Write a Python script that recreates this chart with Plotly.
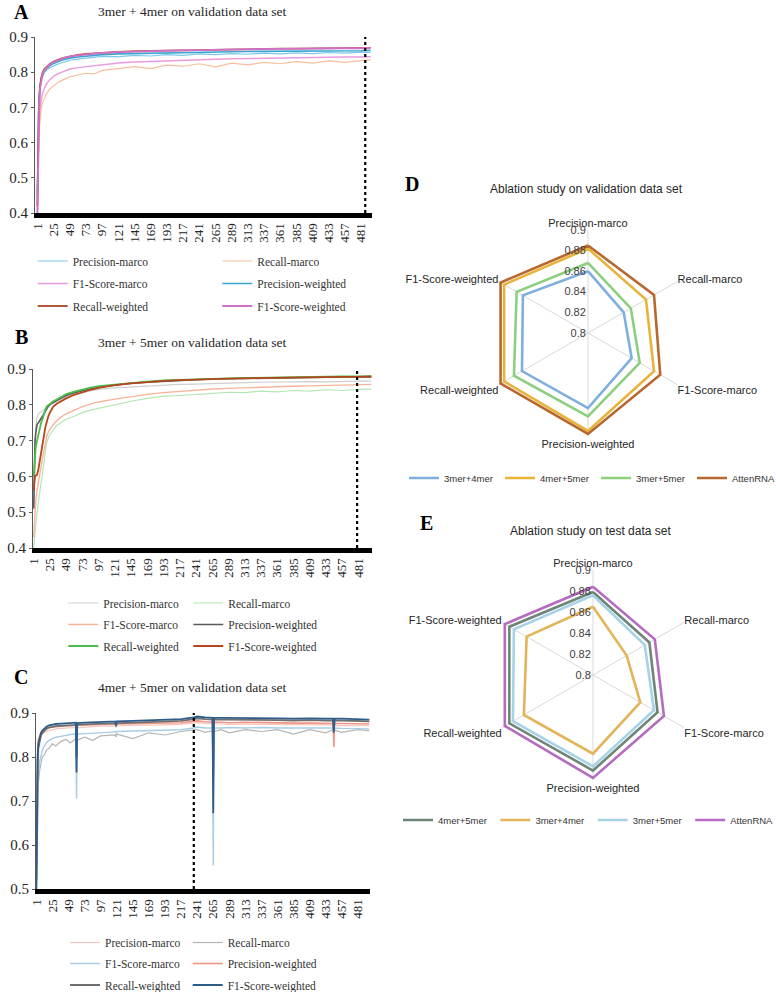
import plotly.graph_objects as go

W, H = 776, 992


def fx(px):
    return px / W


def fy(px):
    return 1 - px / H


SERIF = "Liberation Serif"
SANS = "Liberation Sans"

METRICS = ["Precision-marco", "Recall-marco", "F1-Score-marco",
           "Precision-weighted", "Recall-weighted", "F1-Score-weighted"]
EPOCH_TICKS = [1, 25, 49, 73, 97, 121, 145, 169, 193, 217, 241, 265, 289,
               313, 337, 361, 385, 409, 433, 457, 481]

# ---------------- Panel A: 3mer + 4mer ----------------
EPOCH_A = [1, 2, 3, 4, 5, 7, 9, 12, 15, 19, 25, 31, 37, 43, 49, 61, 73, 85, 97,
           121, 145, 169, 193, 217, 241, 265, 289, 313, 337, 361, 385, 409,
           433, 457, 481, 495]
A_PREC_MARCO = [0.46, 0.63, 0.70, 0.735, 0.76, 0.78, 0.79, 0.80, 0.806, 0.812,
                0.818, 0.823, 0.827, 0.83, 0.834, 0.837, 0.84, 0.842, 0.845,
                0.844, 0.848, 0.846, 0.85, 0.848, 0.852, 0.85, 0.853, 0.851,
                0.854, 0.852, 0.855, 0.853, 0.856, 0.854, 0.857, 0.856]
A_RECALL_MARCO = [0.36, 0.52, 0.60, 0.64, 0.67, 0.70, 0.715, 0.73, 0.74, 0.752,
                  0.762, 0.77, 0.776, 0.782, 0.787, 0.792, 0.797, 0.795, 0.805,
                  0.81, 0.816, 0.81, 0.82, 0.817, 0.824, 0.815, 0.826, 0.821,
                  0.828, 0.824, 0.83, 0.826, 0.832, 0.828, 0.834, 0.836]
A_F1_MARCO = [0.38, 0.55, 0.63, 0.67, 0.70, 0.725, 0.742, 0.757, 0.768, 0.778,
              0.788, 0.795, 0.80, 0.805, 0.809, 0.813, 0.816, 0.819, 0.822,
              0.826, 0.829, 0.831, 0.833, 0.834, 0.836, 0.837, 0.838, 0.839,
              0.84, 0.84, 0.841, 0.842, 0.842, 0.843, 0.843, 0.844]
A_PREC_WEIGHTED = [0.45, 0.62, 0.70, 0.74, 0.765, 0.785, 0.797, 0.806, 0.812,
                   0.818, 0.825, 0.83, 0.834, 0.837, 0.84, 0.843, 0.846, 0.848,
                   0.85, 0.852, 0.853, 0.855, 0.856, 0.857, 0.857, 0.858, 0.858,
                   0.859, 0.859, 0.86, 0.86, 0.86, 0.861, 0.861, 0.861, 0.862]
A_RECALL_WEIGHTED = [0.42, 0.60, 0.68, 0.73, 0.76, 0.785, 0.80, 0.81, 0.816,
                     0.823, 0.83, 0.835, 0.839, 0.842, 0.845, 0.849, 0.852,
                     0.854, 0.856, 0.858, 0.86, 0.861, 0.862, 0.863, 0.864,
                     0.865, 0.865, 0.866, 0.866, 0.867, 0.867, 0.868, 0.868,
                     0.868, 0.869, 0.869]
A_F1_WEIGHTED = [0.40, 0.57, 0.66, 0.72, 0.755, 0.78, 0.796, 0.807, 0.814,
                 0.821, 0.829, 0.834, 0.838, 0.842, 0.845, 0.848, 0.851, 0.853,
                 0.855, 0.857, 0.859, 0.86, 0.861, 0.862, 0.863, 0.864, 0.865,
                 0.865, 0.866, 0.866, 0.867, 0.867, 0.868, 0.868, 0.868, 0.869]
BEST_EPOCH_A = 487

# ---------------- Panel B: 3mer + 5mer ----------------
EPOCH_B = [1, 2, 3, 4, 6, 8, 10, 12, 14, 16, 18, 20, 23, 26, 30, 35, 41, 49, 61,
           73, 85, 97, 121, 145, 169, 193, 217, 241, 265, 289, 313, 337, 361,
           385, 409, 433, 457, 481, 500]
B_PREC_MARCO = [0.52, 0.62, 0.70, 0.74, 0.765, 0.775, 0.778, 0.78, 0.782, 0.785,
                0.788, 0.792, 0.797, 0.80, 0.805, 0.81, 0.815, 0.822, 0.83,
                0.835, 0.84, 0.843, 0.847, 0.85, 0.852, 0.855, 0.857, 0.858,
                0.86, 0.861, 0.862, 0.863, 0.864, 0.863, 0.865, 0.864, 0.866,
                0.866, 0.866]
B_RECALL_MARCO = [0.40, 0.42, 0.45, 0.48, 0.50, 0.53, 0.555, 0.575, 0.60, 0.635,
                  0.665, 0.69, 0.71, 0.72, 0.73, 0.742, 0.75, 0.76, 0.768,
                  0.778, 0.785, 0.79, 0.802, 0.81, 0.818, 0.824, 0.826, 0.83,
                  0.832, 0.835, 0.834, 0.838, 0.836, 0.84, 0.838, 0.842, 0.84,
                  0.843, 0.844]
B_F1_MARCO = [0.43, 0.47, 0.50, 0.53, 0.56, 0.585, 0.61, 0.635, 0.65, 0.67,
              0.69, 0.71, 0.725, 0.735, 0.745, 0.755, 0.765, 0.775, 0.785,
              0.795, 0.802, 0.808, 0.816, 0.823, 0.829, 0.834, 0.838, 0.841,
              0.844, 0.846, 0.848, 0.85, 0.851, 0.852, 0.853, 0.854, 0.855,
              0.856, 0.857]
B_PREC_WEIGHTED = [0.51, 0.62, 0.70, 0.72, 0.745, 0.75, 0.755, 0.76, 0.768,
                   0.775, 0.782, 0.79, 0.797, 0.802, 0.807, 0.812, 0.818, 0.826,
                   0.834, 0.84, 0.845, 0.849, 0.855, 0.86, 0.863, 0.866, 0.868,
                   0.87, 0.872, 0.873, 0.874, 0.875, 0.876, 0.876, 0.877, 0.877,
                   0.878, 0.878, 0.878]
B_RECALL_WEIGHTED = [0.60, 0.63, 0.655, 0.68, 0.70, 0.72, 0.735, 0.75, 0.76,
                     0.775, 0.785, 0.795, 0.80, 0.805, 0.81, 0.815, 0.822, 0.83,
                     0.837, 0.843, 0.848, 0.852, 0.857, 0.862, 0.865, 0.868,
                     0.87, 0.872, 0.873, 0.874, 0.875, 0.876, 0.877, 0.877,
                     0.878, 0.878, 0.879, 0.879, 0.88]
B_F1_WEIGHTED = [0.56, 0.60, 0.60, 0.602, 0.605, 0.62, 0.645, 0.665, 0.69, 0.71,
                 0.735, 0.75, 0.77, 0.782, 0.795, 0.803, 0.81, 0.818, 0.828,
                 0.836, 0.842, 0.847, 0.855, 0.86, 0.864, 0.867, 0.869, 0.871,
                 0.872, 0.873, 0.874, 0.875, 0.876, 0.876, 0.877, 0.877, 0.878,
                 0.878, 0.879]
BEST_EPOCH_B = 479

# ---------------- Panel C: 4mer + 5mer ----------------
EPOCH_C = [1, 2, 3, 4, 6, 8, 10, 13, 16, 20, 25, 30, 37, 45, 52, 60, 61, 62, 73,
           85, 97, 119, 120, 121, 145, 169, 193, 217, 236, 241, 253, 264, 265,
           266, 277, 289, 313, 337, 361, 385, 409, 433, 444, 445, 446, 457,
           481, 498]
C_PREC_MARCO = [0.55, 0.72, 0.80, 0.83, 0.84, 0.848, 0.852, 0.856, 0.858, 0.86,
                0.862, 0.864, 0.865, 0.866, 0.866, 0.867, 0.867, 0.866, 0.868,
                0.869, 0.87, 0.87, 0.868, 0.871, 0.872, 0.872, 0.873, 0.874,
                0.877, 0.878, 0.876, 0.876, 0.875, 0.876, 0.875, 0.874, 0.875,
                0.874, 0.874, 0.873, 0.873, 0.873, 0.872, 0.87, 0.872, 0.872,
                0.872, 0.871]
C_RECALL_MARCO = [0.48, 0.60, 0.70, 0.74, 0.77, 0.785, 0.80, 0.805, 0.815, 0.82,
                  0.83, 0.825, 0.835, 0.84, 0.832, 0.842, 0.842, 0.838, 0.845,
                  0.838, 0.848, 0.85, 0.845, 0.852, 0.842, 0.855, 0.85, 0.858,
                  0.86, 0.862, 0.856, 0.86, 0.86, 0.858, 0.862, 0.855, 0.862,
                  0.858, 0.862, 0.852, 0.862, 0.855, 0.862, 0.86, 0.861, 0.856,
                  0.862, 0.86]
C_F1_MARCO = [0.50, 0.62, 0.72, 0.76, 0.79, 0.805, 0.815, 0.825, 0.832, 0.838,
              0.842, 0.845, 0.847, 0.85, 0.851, 0.852, 0.705, 0.852, 0.853,
              0.855, 0.856, 0.857, 0.855, 0.858, 0.859, 0.86, 0.861, 0.862,
              0.866, 0.868, 0.866, 0.866, 0.553, 0.866, 0.866, 0.867, 0.866,
              0.867, 0.866, 0.866, 0.866, 0.866, 0.866, 0.85, 0.866, 0.865,
              0.865, 0.864]
C_PREC_WEIGHTED = [0.58, 0.75, 0.82, 0.84, 0.85, 0.856, 0.86, 0.863, 0.865,
                   0.867, 0.868, 0.869, 0.87, 0.871, 0.871, 0.872, 0.86, 0.872,
                   0.873, 0.873, 0.874, 0.875, 0.872, 0.875, 0.876, 0.876,
                   0.877, 0.878, 0.881, 0.882, 0.88, 0.879, 0.87, 0.879, 0.879,
                   0.878, 0.879, 0.878, 0.878, 0.877, 0.877, 0.877, 0.876,
                   0.823, 0.876, 0.876, 0.875, 0.875]
C_RECALL_WEIGHTED = [0.52, 0.70, 0.79, 0.82, 0.84, 0.85, 0.855, 0.86, 0.864,
                     0.867, 0.869, 0.87, 0.871, 0.872, 0.872, 0.873, 0.80,
                     0.873, 0.874, 0.875, 0.876, 0.877, 0.87, 0.877, 0.878,
                     0.879, 0.88, 0.882, 0.886, 0.888, 0.886, 0.885, 0.75,
                     0.885, 0.885, 0.885, 0.885, 0.884, 0.884, 0.883, 0.884,
                     0.883, 0.883, 0.86, 0.883, 0.883, 0.882, 0.881]
C_F1_WEIGHTED = [0.50, 0.70, 0.80, 0.83, 0.845, 0.855, 0.86, 0.865, 0.869,
                 0.872, 0.874, 0.875, 0.876, 0.877, 0.877, 0.878, 0.765, 0.877,
                 0.878, 0.879, 0.88, 0.881, 0.872, 0.881, 0.882, 0.883, 0.884,
                 0.886, 0.89, 0.892, 0.89, 0.889, 0.672, 0.889, 0.889, 0.889,
                 0.889, 0.888, 0.888, 0.887, 0.888, 0.887, 0.887, 0.855, 0.887,
                 0.887, 0.886, 0.885]
BEST_EPOCH_C = 236

# ---------------- Panels D / E: radar ----------------
RADIAL_TICKS = [0.8, 0.82, 0.84, 0.86, 0.88, 0.9]
D_MODELS = ["3mer+4mer", "4mer+5mer", "3mer+5mer", "AttenRNA"]
D_3MER4MER = [0.860, 0.840, 0.849, 0.873, 0.874, 0.873]
D_4MER5MER = [0.882, 0.865, 0.874, 0.895, 0.894, 0.894]
D_3MER5MER = [0.868, 0.848, 0.858, 0.881, 0.883, 0.880]
D_ATTENRNA = [0.885, 0.874, 0.881, 0.898, 0.898, 0.898]

E_MODELS = ["4mer+5mer", "3mer+4mer", "3mer+5mer", "AttenRNA"]
E_4MER5MER = [0.879, 0.862, 0.871, 0.891, 0.892, 0.892]
E_3MER4MER = [0.865, 0.837, 0.852, 0.875, 0.876, 0.873]
E_3MER5MER = [0.876, 0.857, 0.867, 0.887, 0.888, 0.887]
E_ATTENRNA = [0.884, 0.868, 0.878, 0.898, 0.897, 0.897]

# ---------------- styling ----------------
A_COLORS = ["#7DC8EA", "#F7BE9E", "#E99BE0", "#3AA6D0", "#B05A3C", "#D070C8"]
B_COLORS = ["#CFCFCF", "#B5E6B5", "#F6B49A", "#595959", "#4DBE4D", "#B5461E"]
C_COLORS = ["#F6C6C0", "#B5B5B5", "#A9CCE6", "#EE9585", "#6F6F6F", "#2E5D8A"]
WIDTHS = [1.2, 1.2, 1.4, 1.6, 1.8, 1.8]
D_COLORS = ["#7FAFDD", "#E8B33A", "#8CCF7E", "#B8682F"]
E_COLORS = ["#6E8577", "#E3B45A", "#A6D3E6", "#B46BC0"]

fig = go.Figure()
layout = dict(width=W, height=H,
              margin=dict(l=0, r=0, t=0, b=0, autoexpand=False),
              paper_bgcolor="white", plot_bgcolor="white", showlegend=True,
              shapes=[], annotations=[])

panels = [
    dict(ax="", x=(35, 372), y=(37, 213), xr=[-2.5, 497], yr=[0.4, 0.9],
         yt=[0.4, 0.5, 0.6, 0.7, 0.8, 0.9], ep=EPOCH_A,
         data=[A_PREC_MARCO, A_RECALL_MARCO, A_F1_MARCO, A_PREC_WEIGHTED,
               A_RECALL_WEIGHTED, A_F1_WEIGHTED], colors=A_COLORS,
         best=BEST_EPOCH_A, lx=32.7, ly=[261, 283.5, 306], ew=139.6,
         label="A", lpos=(21, 12), title="3mer + 4mer on validation data set",
         tpos=(192, 12), legs=["legend", "legend2", "legend3"]),
    dict(ax="2", x=(33, 372), y=(369, 548), xr=[0, 501], yr=[0.4, 0.9],
         yt=[0.4, 0.5, 0.6, 0.7, 0.8, 0.9], ep=EPOCH_B,
         data=[B_PREC_MARCO, B_RECALL_MARCO, B_F1_MARCO, B_PREC_WEIGHTED,
               B_RECALL_WEIGHTED, B_F1_WEIGHTED], colors=B_COLORS,
         best=BEST_EPOCH_B, lx=63.3, ly=[603, 624.5, 646], ew=80,
         label="B", lpos=(21, 337), title="3mer + 5mer on validation data set",
         tpos=(192, 343), legs=["legend4", "legend5", "legend6"]),
    dict(ax="3", x=(36, 370), y=(713, 889), xr=[0.5, 499], yr=[0.5, 0.9],
         yt=[0.5, 0.6, 0.7, 0.8, 0.9], ep=EPOCH_C,
         data=[C_PREC_MARCO, C_RECALL_MARCO, C_F1_MARCO, C_PREC_WEIGHTED,
               C_RECALL_WEIGHTED, C_F1_WEIGHTED], colors=C_COLORS,
         best=BEST_EPOCH_C, lx=65, ly=[942.5, 963.5, 985], ew=77.7,
         label="C", lpos=(21, 677), title="4mer + 5mer on validation data set",
         tpos=(192, 687), legs=["legend7", "legend8", "legend9"]),
]

for p in panels:
    xa = "x" + p["ax"]
    ya = "y" + p["ax"]
    for i, (name, vals) in enumerate(zip(METRICS, p["data"])):
        assert len(vals) == len(p["ep"]), (name, len(vals), len(p["ep"]))
        fig.add_trace(go.Scatter(
            x=p["ep"], y=vals, mode="lines", name=name,
            line=dict(color=p["colors"][i], width=WIDTHS[i]),
            xaxis=xa, yaxis=ya, legend=p["legs"][i // 2],
            legendwidth=p["ew"] if i % 2 == 0 else 130,
            hoverinfo="skip"))
    layout["xaxis" + p["ax"]] = dict(
        domain=[fx(p["x"][0]), fx(p["x"][1])], anchor=ya, range=p["xr"],
        tickmode="array", tickvals=EPOCH_TICKS,
        ticktext=[str(t) for t in EPOCH_TICKS], tickangle=-90,
        tickfont=dict(family=SERIF, size=13, color="#262626"),
        showline=True, linecolor="black", linewidth=5, ticks="",
        showgrid=False, zeroline=False, fixedrange=True)
    layout["yaxis" + p["ax"]] = dict(
        domain=[fy(p["y"][1]), fy(p["y"][0])], anchor=xa, range=p["yr"],
        tickmode="array", tickvals=p["yt"],
        ticktext=["%.1f" % v for v in p["yt"]],
        tickfont=dict(family=SERIF, size=15, color="#262626"),
        showline=True, linecolor="#595959", linewidth=1.2, ticks="outside",
        ticklen=3, tickcolor="#595959", showgrid=False, zeroline=False,
        fixedrange=True)
    layout["shapes"].append(dict(
        type="line", xref=xa, yref=ya, x0=p["best"], x1=p["best"],
        y0=p["yr"][0], y1=p["yr"][1],
        line=dict(color="black", width=2.2, dash="dot")))
    for leg, ly in zip(p["legs"], p["ly"]):
        layout[leg] = dict(
            x=fx(p["lx"]), y=fy(ly), xanchor="left", yanchor="middle",
            orientation="h", bgcolor="rgba(0,0,0,0)", borderwidth=0,
            tracegroupgap=0,
            font=dict(family=SERIF, size=11.5, color="#333333"))
    layout["annotations"].append(dict(
        text="<b>%s</b>" % p["label"], x=fx(p["lpos"][0]), y=fy(p["lpos"][1]),
        xref="paper", yref="paper", showarrow=False, xanchor="center",
        yanchor="middle", font=dict(family=SERIF, size=20, color="black")))
    layout["annotations"].append(dict(
        text=p["title"], x=fx(p["tpos"][0]), y=fy(p["tpos"][1]),
        xref="paper", yref="paper", showarrow=False, xanchor="center",
        yanchor="middle", font=dict(family=SERIF, size=13.5, color="#262626")))

radars = [
    dict(key="polar", center=(588, 333), r=103, models=D_MODELS,
         data=[D_3MER4MER, D_4MER5MER, D_3MER5MER, D_ATTENRNA], colors=D_COLORS,
         leg="legend10", lx=404, ly=478, ew=51, label="D", lpos=(412, 184),
         title="Ablation study on validation data set", tpos=(586, 189)),
    dict(key="polar2", center=(593, 675), r=105, models=E_MODELS,
         data=[E_4MER5MER, E_3MER4MER, E_3MER5MER, E_ATTENRNA], colors=E_COLORS,
         leg="legend11", lx=398, ly=820, ew=52.4, label="E", lpos=(426, 523),
         title="Ablation study on test data set", tpos=(590, 531)),
]

for rd in radars:
    for k, (name, vals, col) in enumerate(zip(rd["models"], rd["data"], rd["colors"])):
        fig.add_trace(go.Scatterpolar(
            r=vals + vals[:1], theta=METRICS + METRICS[:1], mode="lines",
            name=name, line=dict(color=col, width=2.6), subplot=rd["key"],
            legend=rd["leg"], legendwidth=rd["ew"] if k < 3 else 60,
            hoverinfo="skip"))
    cx, cy = rd["center"]
    R = rd["r"]
    layout[rd["key"]] = dict(
        domain=dict(x=[fx(cx - R), fx(cx + R)], y=[fy(cy + R), fy(cy - R)]),
        bgcolor="white",
        radialaxis=dict(range=[0.8, 0.9], tickmode="array",
                        tickvals=RADIAL_TICKS,
                        ticktext=[("%.2f" % v).rstrip("0").rstrip(".") for v in RADIAL_TICKS],
                        angle=90, side="counterclockwise", tickangle=90,
                        showline=False, showgrid=False, ticks="",
                        tickfont=dict(family=SANS, size=11, color="#404040")),
        angularaxis=dict(direction="clockwise", rotation=90, showline=False,
                         showgrid=True, gridcolor="#D9D9D9", gridwidth=1,
                         ticks="", tickfont=dict(family=SANS, size=11,
                                                  color="#262626")))
    layout[rd["leg"]] = dict(
        x=fx(rd["lx"]), y=fy(rd["ly"]), xanchor="left", yanchor="middle",
        orientation="h", bgcolor="rgba(0,0,0,0)", borderwidth=0,
        font=dict(family=SANS, size=9.5, color="#333333"))
    layout["annotations"].append(dict(
        text="<b>%s</b>" % rd["label"], x=fx(rd["lpos"][0]), y=fy(rd["lpos"][1]),
        xref="paper", yref="paper", showarrow=False, xanchor="center",
        yanchor="middle", font=dict(family=SERIF, size=20, color="black")))
    layout["annotations"].append(dict(
        text=rd["title"], x=fx(rd["tpos"][0]), y=fy(rd["tpos"][1]),
        xref="paper", yref="paper", showarrow=False, xanchor="center",
        yanchor="middle", font=dict(family=SANS, size=12, color="#262626")))

fig.update_layout(**layout)
fig.write_html("out.html", config=dict(displayModeBar=False))
